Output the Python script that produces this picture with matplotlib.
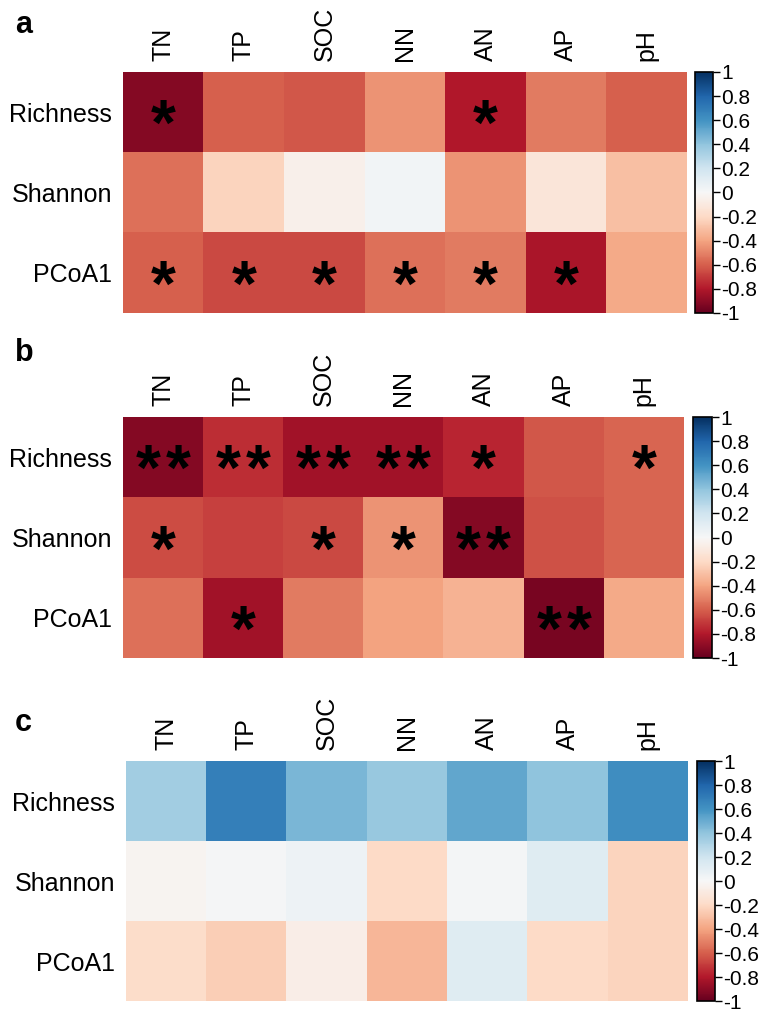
import numpy as np
import matplotlib
matplotlib.use("Agg")
import matplotlib.pyplot as plt
from matplotlib.ticker import FixedLocator, FuncFormatter

plt.rcParams['font.family'] = ['Liberation Sans', 'DejaVu Sans']
plt.rcParams['axes.unicode_minus'] = False

soil_vars = ["TN", "TP", "SOC", "NN", "AN", "AP", "pH"]
diversity = ["Richness", "Shannon", "PCoA1"]

# Correlation coefficients (rows: diversity index, columns: soil property)
corr_a = [
    [-0.92, -0.60, -0.62, -0.45, -0.80, -0.52, -0.60],
    [-0.55, -0.22, -0.05, 0.03, -0.45, -0.12, -0.30],
    [-0.60, -0.66, -0.66, -0.55, -0.52, -0.82, -0.38],
]
corr_b = [
    [-0.92, -0.74, -0.84, -0.84, -0.76, -0.62, -0.58],
    [-0.65, -0.68, -0.66, -0.45, -0.92, -0.64, -0.58],
    [-0.55, -0.84, -0.52, -0.40, -0.35, -0.95, -0.38],
]
corr_c = [
    [0.35, 0.68, 0.46, 0.38, 0.52, 0.40, 0.62],
    [-0.03, 0.01, 0.05, -0.20, 0.02, 0.12, -0.22],
    [-0.18, -0.25, -0.07, -0.33, 0.12, -0.20, -0.22],
]

# Significance marks
sig_a = [
    ["*", "", "", "", "*", "", ""],
    ["", "", "", "", "", "", ""],
    ["*", "*", "*", "*", "*", "*", ""],
]
sig_b = [
    ["**", "**", "**", "**", "*", "", "*"],
    ["*", "", "*", "*", "**", "", ""],
    ["", "*", "", "", "", "**", ""],
]
sig_c = [
    ["", "", "", "", "", "", ""],
    ["", "", "", "", "", "", ""],
    ["", "", "", "", "", "", ""],
]

W, H = 772, 1013
fig = plt.figure(figsize=(W / 100, H / 100), dpi=100)


def px_axes(x0, y0, x1, y1):
    return fig.add_axes([x0 / W, 1 - y1 / H, (x1 - x0) / W, (y1 - y0) / H])


panels = [
    ("a", corr_a, sig_a, (123, 72, 687, 313), (695, 713), 33),
    ("b", corr_b, sig_b, (123, 417, 684, 658), (693, 712), 361),
    ("c", corr_c, sig_c, (126, 761, 688, 1001), (697, 715), 731),
]

ticks = np.round(np.arange(-1, 1.01, 0.2), 1)


def fmt(v, pos):
    if abs(v) < 1e-9:
        return "0"
    if abs(abs(v) - 1) < 1e-9:
        return "%d" % round(v)
    return ("%.1f" % v)


STAR_SIZE = 46
STAR_DROP = -0.47 * STAR_SIZE - 2   # baseline offset so the glyph sits mid-cell
STAR_GAP = 10.8                     # horizontal spacing of paired stars (pt)

for letter, corr, sig, (x0, y0, x1, y1), (cx0, cx1), ly in panels:
    ax = px_axes(x0, y0, x1, y1)
    data = np.array(corr)
    im = ax.imshow(data, cmap="RdBu", vmin=-1, vmax=1, aspect="auto",
                   interpolation="nearest")
    ax.set_xticks(range(len(soil_vars)))
    ax.set_xticklabels(soil_vars, rotation=90, fontsize=18)
    ax.set_yticks(range(len(diversity)))
    ax.set_yticklabels(diversity, fontsize=18)
    ax.xaxis.tick_top()
    ax.tick_params(length=0, pad=8)
    for s in ax.spines.values():
        s.set_visible(False)
    for i in range(data.shape[0]):
        for j in range(data.shape[1]):
            n = len(sig[i][j])
            offsets = [0.0] if n == 1 else ([-STAR_GAP, STAR_GAP] if n == 2 else [])
            for dx in offsets:
                ax.annotate("*", xy=(j, i), xytext=(dx, STAR_DROP),
                            textcoords="offset points", ha="center",
                            va="baseline", fontsize=STAR_SIZE,
                            fontweight="bold", color="black")

    cax = px_axes(cx0, y0, cx1, y1)
    cb = fig.colorbar(im, cax=cax)
    cb.outline.set_linewidth(1.2)
    cb.outline.set_edgecolor("black")
    cax.yaxis.set_major_locator(FixedLocator(ticks))
    cax.yaxis.set_major_formatter(FuncFormatter(fmt))
    cax.tick_params(labelsize=15, length=5, width=1, pad=1, colors="black")

    fig.text(15 / W, 1 - ly / H, letter, fontsize=22, fontweight="bold",
             ha="left", va="baseline")

fig.savefig("out.png", dpi=100)
